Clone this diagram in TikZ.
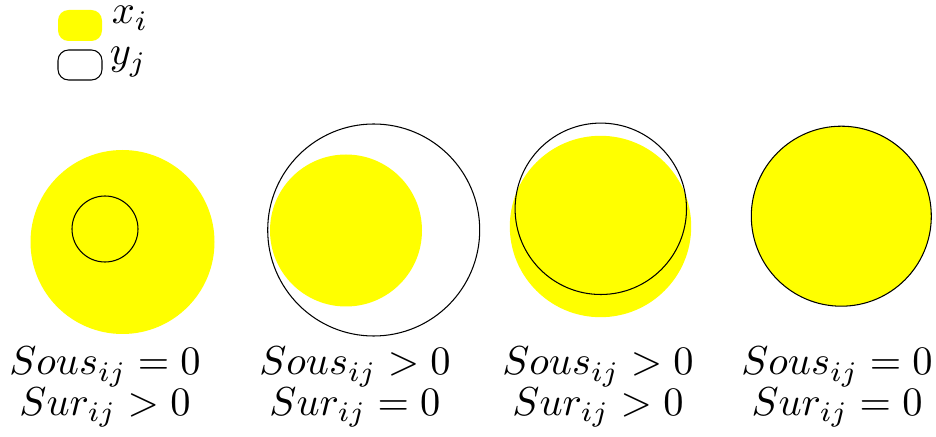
\documentclass[tikz,border=0pt]{standalone}
\usepackage{amsmath,amssymb}
\usepackage{xcolor}
\usepackage{tikz}
\definecolor{xfill}{RGB}{255,255,0}

\begin{document}
\begin{tikzpicture}[x=0.02cm, y=0.02cm,
  lbl/.style={scale=2.3, transform shape, anchor=base, inner sep=0pt},
  key/.style={scale=2.3, transform shape, anchor=base west, inner sep=0pt},
  ring/.style={line width=0.6pt}]
\useasboundingbox (0,0) rectangle (936,436);
% legend
\fill[xfill, rounded corners=6] (58,395) rectangle (102,426);
\node[key] (xi) at (111,412) {$x_i$};
\draw[ring, rounded corners=6] (58,356) rectangle (102,386);
\node[key] (yj) at (109,371) {$y_j$};
% case 1
\fill[xfill] (122.5,194) circle[radius=92];
\draw[ring] (105,207) circle[radius=33];
\node[lbl] (sous1) at (105,61) {$Sous_{ij}=0$};
\node[lbl] (sur1) at (105,21) {$Sur_{ij}>0$};
% case 2
\draw[ring] (373.7,206) circle[radius=106];
\fill[xfill] (346,205.5) circle[radius=76];
\node[lbl] (sous2) at (355,61) {$Sous_{ij}>0$};
\node[lbl] (sur2) at (355,21) {$Sur_{ij}=0$};
% case 3
\fill[xfill] (600.5,209.5) circle[radius=90.7];
\draw[ring] (600.8,227.2) circle[radius=85.7];
\node[lbl] (sous3) at (598,61) {$Sous_{ij}>0$};
\node[lbl] (sur3) at (598,21) {$Sur_{ij}>0$};
% case 4
\draw[ring, fill=xfill] (841.3,219.8) circle[radius=90];
\node[lbl] (sous4) at (837,61) {$Sous_{ij}=0$};
\node[lbl] (sur4) at (837,21) {$Sur_{ij}=0$};
\end{tikzpicture}
\end{document}
